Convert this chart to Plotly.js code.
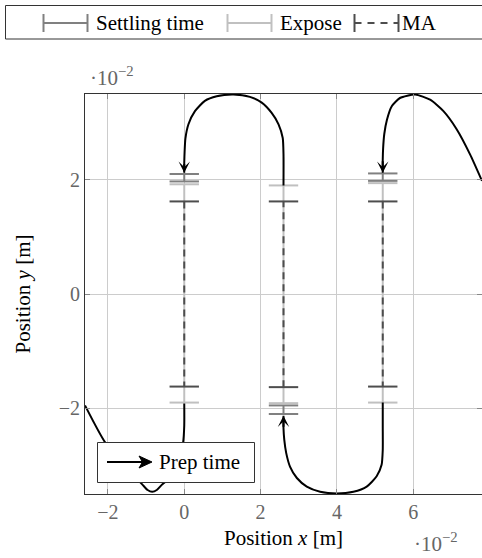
<!DOCTYPE html>
<html>
<head>
<meta charset="utf-8">
<script src="https://cdn.plot.ly/plotly-3.0.1.min.js"></script>
<style>html,body{margin:0;padding:0;background:#fff;}#chart{width:482px;height:558px;}</style>
</head>
<body>
<div id="chart"></div>
<script>
// ---- data (positions in units of 1e-2 m) ----
const xTicks = [-2, 0, 2, 4, 6];
const yTicks = [-2, 0, 2];

// scan columns
const scanX      = [0, 2.6, 5.2];
const settleFrom = [2.10, -2.10, 2.11];
const settleTo   = [1.97, -1.95, 1.98];
const exposeFrom = [1.92, -1.91, 1.94];
const exposeTo   = [-1.90, 1.90, -1.90];
const maFrom     = [1.62, -1.63, 1.62];
const maTo       = [-1.62, 1.62, -1.62];

// prep-time curves
const prepAx = [7.8, 7.49, 7.14, 6.79, 6.44, 6.05, 5.65, 5.44, 5.31, 5.24, 5.21, 5.2, 5.2];
const prepAy = [1.98, 2.44, 2.88, 3.2, 3.40, 3.49, 3.43, 3.29, 3.05, 2.8, 2.55, 2.35, 2.12];
const prepBx = [5.2, 5.2, 5.2, 5.17, 5.04, 4.78, 4.43, 4.0, 3.56, 3.21, 2.95, 2.77, 2.67, 2.62, 2.6, 2.6];
const prepBy = [-1.9, -2.3, -2.73, -2.99, -3.19, -3.37, -3.46, -3.49, -3.46, -3.37, -3.22, -3.02, -2.78, -2.55, -2.35, -2.13];
const prepCx = [2.6, 2.6, 2.58, 2.47, 2.29, 2.03, 1.72, 1.29, 0.85, 0.54, 0.28, 0.11, 0.03, 0.01, 0, 0];
const prepCy = [1.9, 2.44, 2.73, 2.97, 3.17, 3.35, 3.45, 3.49, 3.46, 3.38, 3.20, 2.97, 2.72, 2.5, 2.3, 2.12];
const prepDx = [0, 0, -0.03, -0.15, -0.35, -0.59, -0.72, -0.84, -0.96, -1.09, -1.4, -2.07, -2.6];
const prepDy = [-1.9, -2.3, -2.6, -2.95, -3.2, -3.34, -3.43, -3.46, -3.43, -3.34, -3.12, -2.6, -1.95];

const legendTop = ['Settling time', 'Expose', 'MA'];
const legendPrep = 'Prep time';

// ---- styles ----
const cSettle = '#808080', cExpose = '#c0c0c0', cMA = '#4d4d4d';
const FONT = 'Liberation Serif';
const FS = 20, FT = 21;

function segTrace(fromArr, toArr, color, dash) {
  const x = [], y = [];
  scanX.forEach((sx, i) => { x.push(sx, sx, null); y.push(fromArr[i], toArr[i], null); });
  return {
    x, y, type: 'scatter', mode: 'lines+markers', connectgaps: false, hoverinfo: 'skip',
    line: {color, width: 2, dash: dash || 'solid'},
    marker: {symbol: 'line-ew', size: 21, color, line: {color, width: 2}}
  };
}
function curve(x, y) {
  return {x, y, type: 'scatter', mode: 'lines', hoverinfo: 'skip',
    line: {color: '#000', width: 2, shape: 'spline', smoothing: 0.6}};
}

const traces = [
  curve(prepDx, prepDy),
  segTrace(settleFrom, settleTo, cSettle),
  segTrace(exposeFrom, exposeTo, cExpose),
  segTrace(maFrom, maTo, cMA, '7px,5px'),
  curve(prepAx, prepAy), curve(prepBx, prepBy), curve(prepCx, prepCy)
];

// paper-coordinate helpers (plot area: 85..482 x 94..494 px)
const PL = 85, PR = 482, PT = 94, PB = 494;
const px = X => (X - PL) / (PR - PL);
const py = Y => (PB - Y) / (PB - PT);

const annotations = [];
function arrowAt(xs, ys) {
  const n = xs.length;
  annotations.push({x: xs[n-1], y: ys[n-1], ax: xs[n-2], ay: ys[n-2], xref: 'x', yref: 'y', axref: 'x', ayref: 'y',
    showarrow: true, arrowhead: 3, arrowsize: 0.95, arrowwidth: 2, arrowcolor: '#000', text: '', standoff: 0});
}
arrowAt(prepAx, prepAy); arrowAt(prepBx, prepBy); arrowAt(prepCx, prepCy);

// scale labels
annotations.push({xref: 'paper', yref: 'paper', x: px(88), y: py(76), xanchor: 'left', yanchor: 'middle',
  text: '·10<sup>−2</sup>', showarrow: false, font: {family: FONT, size: FT, color: '#666'}});
annotations.push({xref: 'paper', yref: 'paper', x: px(412), y: py(542), xanchor: 'left', yanchor: 'middle',
  text: '·10<sup>−2</sup>', showarrow: false, font: {family: FONT, size: FT, color: '#666'}});

const shapes = [];
// top legend box
shapes.push({type: 'rect', xref: 'paper', yref: 'paper', x0: px(5.5), x1: px(500), y0: py(39), y1: py(5.5),
  line: {color: '#333', width: 1}, fillcolor: '#fff', layer: 'above'});
const symCols = [cSettle, cExpose, cMA];
const symX0 = [43.5, 227.5, 354.5], symX1 = [87.5, 271.5, 398.5];
const txtX = [94, 278, 400];
const LY = 23;
legendTop.forEach((t, i) => {
  shapes.push({type: 'line', xref: 'paper', yref: 'paper', x0: px(symX0[i]), x1: px(symX1[i]), y0: py(LY), y1: py(LY),
    line: {color: symCols[i], width: 2, dash: i === 2 ? '7px,6px' : 'solid'}, layer: 'above'});
  [symX0[i], symX1[i]].forEach(X => shapes.push({type: 'line', xref: 'paper', yref: 'paper', x0: px(X), x1: px(X),
    y0: py(LY - 9), y1: py(LY + 9), line: {color: symCols[i], width: 2}, layer: 'above'}));
  annotations.push({xref: 'paper', yref: 'paper', x: px(txtX[i]), y: py(LY), xanchor: 'left', yanchor: 'middle',
    text: t, showarrow: false, font: {family: FONT, size: FT, color: '#000'}});
});
// prep time legend
shapes.push({type: 'rect', xref: 'paper', yref: 'paper', x0: px(97.5), x1: px(254.5), y0: py(482.5), y1: py(442.5),
  line: {color: '#333', width: 1}, fillcolor: '#fff', layer: 'above'});
shapes.push({type: 'line', xref: 'paper', yref: 'paper', x0: px(107), x1: px(146), y0: py(462), y1: py(462),
  line: {color: '#000', width: 2}, layer: 'above'});
const headPts = [[152, 462], [139, 456], [142.5, 462], [139, 468]];
shapes.push({type: 'path', xref: 'paper', yref: 'paper', layer: 'above', fillcolor: '#000', line: {color: '#000', width: 1},
  path: 'M' + headPts.map(p => px(p[0]) + ',' + py(p[1])).join('L') + 'Z'});
annotations.push({xref: 'paper', yref: 'paper', x: px(157), y: py(462), xanchor: 'left', yanchor: 'middle',
  text: legendPrep, showarrow: false, font: {family: FONT, size: FT, color: '#000'}});

const axisCommon = {
  showgrid: true, gridcolor: '#cccccc', gridwidth: 1, zeroline: false,
  showline: true, linecolor: '#333', linewidth: 1, mirror: 'ticks',
  ticks: 'inside', ticklen: 5, tickcolor: '#888', tickwidth: 1,
  tickfont: {family: FONT, size: FS, color: '#666'}, fixedrange: true
};

const layout = {
  width: 482, height: 558,
  margin: {l: PL, r: 482 - PR, t: PT, b: 558 - PB},
  paper_bgcolor: '#fff', plot_bgcolor: '#fff',
  font: {family: FONT, size: FS, color: '#000'},
  showlegend: false,
  xaxis: Object.assign({}, axisCommon, {range: [-2.6, 7.8], tickvals: xTicks,
    title: {text: 'Position <i>x</i> [m]', standoff: 8, font: {family: FONT, size: FT, color: '#000'}}}),
  yaxis: Object.assign({}, axisCommon, {range: [-3.5, 3.5], tickvals: yTicks,
    title: {text: 'Position <i>y</i> [m]', standoff: 22, font: {family: FONT, size: FT, color: '#000'}}}),
  shapes, annotations
};

Plotly.newPlot('chart', traces, layout, {displayModeBar: false, staticPlot: true});
</script>
</body>
</html>
